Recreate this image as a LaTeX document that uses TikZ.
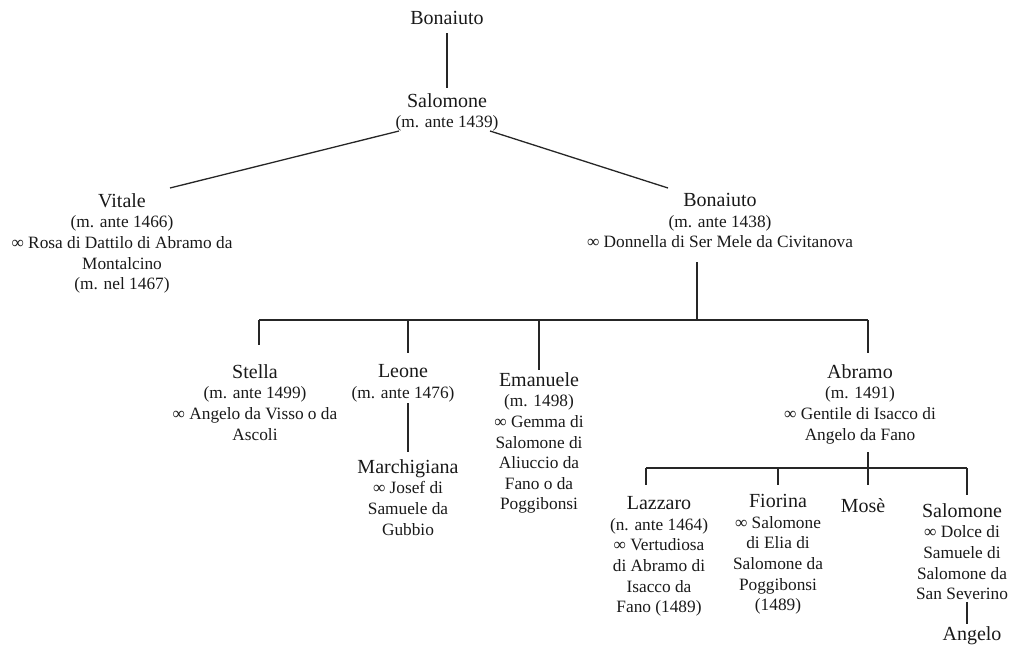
\documentclass[tikz,border=0pt]{standalone}
\usepackage{fontspec}
\setmainfont{Liberation Serif}
\newcommand\pname[1]{{\fontsize{20}{20.6}\selectfont #1}}
\tikzset{
  person/.style={align=center, inner sep=0pt, anchor=north, text=black!90,
    font=\fontsize{17.3}{20.6}\selectfont},
  link/.style={line width=1.3pt, black!85},
}
\begin{document}
\begin{tikzpicture}[x=1pt,y=-1pt]
\useasboundingbox (0,0) rectangle (1017,648);

% people (multi-line nodes hang from the top of their first line)
\node[person, anchor=base] (bon1) at (447,24) {\pname{Bonaiuto}};
\node[person] (sal1) at (447,93.3) {\pname{Salomone}\\(m. ante 1439)};
\node[person] (vit) at (122,193.3) {\pname{Vitale}\\(m. ante 1466)\\∞ Rosa di Dattilo di Abramo da\\Montalcino\\(m. nel 1467)};
\node[person] (bon2) at (720,193.3) {\pname{Bonaiuto}\\(m. ante 1438)\\∞ Donnella di Ser Mele da Civitanova};
\node[person] (ste) at (255,364.3) {\pname{Stella}\\(m. ante 1499)\\∞ Angelo da Visso o da\\Ascoli};
\node[person] (leo) at (403,364.3) {\pname{Leone}\\(m. ante 1476)};
\node[person] (mar) at (408,459.3) {\pname{Marchigiana}\\∞ Josef di\\Samuele da\\Gubbio};
\node[person] (ema) at (539,372.3) {\pname{Emanuele}\\(m. 1498)\\∞ Gemma di\\Salomone di\\Aliuccio da\\Fano o da\\Poggibonsi};
\node[person] (abr) at (860,364.3) {\pname{Abramo}\\(m. 1491)\\∞ Gentile di Isacco di\\Angelo da Fano};
\node[person] (laz) at (659,496.3) {\pname{Lazzaro}\\(n. ante 1464)\\∞ Vertudiosa\\di Abramo di\\Isacco da\\Fano (1489)};
\node[person] (fio) at (778,494.3) {\pname{Fiorina}\\∞ Salomone\\di Elia di\\Salomone da\\Poggibonsi\\(1489)};
\node[person, anchor=base] (mos) at (863,512) {\pname{Mosè}};
\node[person] (sal2) at (962,503.3) {\pname{Salomone}\\∞ Dolce di\\Samuele di\\Salomone da\\San Severino};
\node[person, anchor=base] (ang) at (972,640) {\pname{Angelo}};

% junction points of the family lines
\coordinate (salL) at (399,131);
\coordinate (salR) at (490,131);
\coordinate (vitT) at (170,188);
\coordinate (bonT) at (668,188);
\coordinate (bonB) at (697,262);
\coordinate (barA) at (697,320);
\coordinate (dSte) at (259,320);
\coordinate (dLeo) at (408,320);
\coordinate (dEma) at (539,320);
\coordinate (dAbr) at (868,320);
\coordinate (abrB) at (868,452);
\coordinate (barB) at (868,468);
\coordinate (dLaz) at (646,468);
\coordinate (dFio) at (778,468);
\coordinate (dSal) at (967,468);

% descent lines
\draw[link, shorten <=9pt, shorten >=5pt] (bon1.south) -- (sal1.north);
\draw[link] (salL) -- (vitT);
\draw[link] (salR) -- (bonT);
\draw[link] (bonB) -- (barA);
\draw[link] (dSte) -- (dAbr);
\draw[link] (dSte) -- ++(0,25);
\draw[link] (dLeo) -- ++(0,33);
\draw[link] (dEma) -- ++(0,50);
\draw[link] (dAbr) -- ++(0,33);
\draw[link, shorten <=1pt, shorten >=7pt] (leo.south -| dLeo) -- (mar.north -| dLeo);
\draw[link] (abrB) -- (barB) -- ++(0,17);
\draw[link] (dLaz) -- (dSal);
\draw[link] (dLaz) -- ++(0,17);
\draw[link] (dFio) -- ++(0,17);
\draw[link] (dSal) -- ++(0,27);
\draw[link, shorten <=2pt, shorten >=2pt] (sal2.south -| dSal) -- (ang.north -| dSal);
\end{tikzpicture}
\end{document}
